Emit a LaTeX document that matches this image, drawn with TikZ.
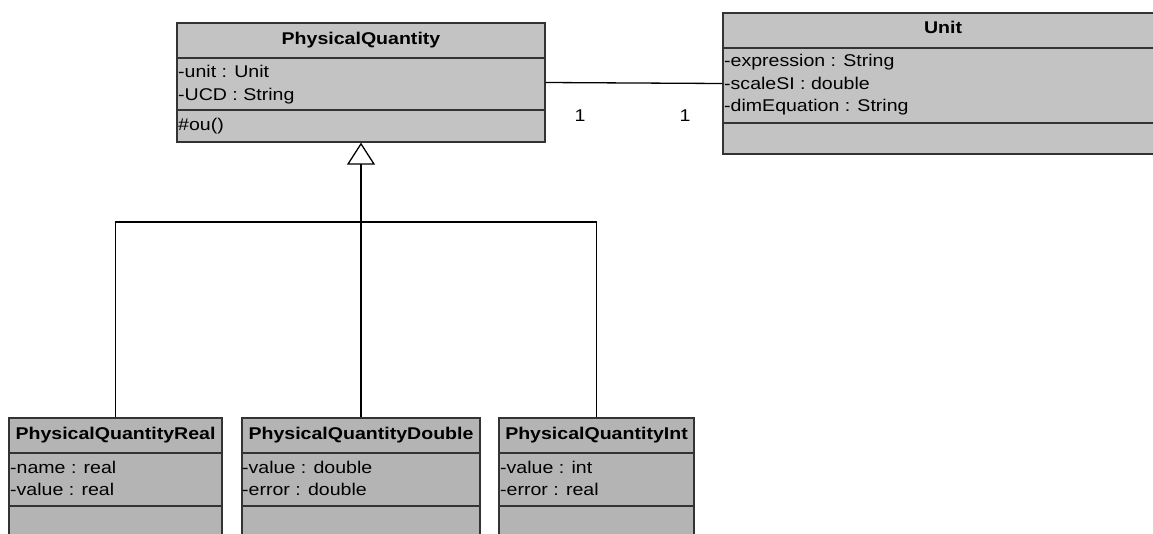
\documentclass[tikz,border=0pt]{standalone}
\usepackage{fontspec}
\setmainfont[FakeStretch=1.15]{Liberation Sans}
\usepackage{tikz}
\usetikzlibrary{arrows.meta}
\definecolor{boxgr}{HTML}{C3C3C3}
\definecolor{subgr}{HTML}{B4B4B4}
\definecolor{edge}{HTML}{333333}

\begin{document}
\begin{tikzpicture}[x=1pt, y=-1pt, font=\fontsize{17}{20}\selectfont,
  cls/.style={draw=edge, line width=1.3pt, inner sep=0, rectangle},
  sep/.style={draw=edge, line width=1.6pt},
  attr/.style={anchor=mid west, inner sep=0},
  title/.style={anchor=mid, inner sep=0, font=\fontsize{17}{20}\selectfont\bfseries},
  inherit/.style={line width=1.2pt, -{Triangle[open, width=28pt, length=22pt, line width=1.3pt]}}]
\clip (0,0) rectangle (1153,533);
\fill[white] (0,0) rectangle (1153,533);
% class boxes
\node[cls, fill=boxgr, minimum width=368pt, minimum height=119pt] (pq) at (361,82.5) {};
\node[cls, fill=boxgr, minimum width=440pt, minimum height=141pt] (unit) at (943,83.5) {};
\node[cls, fill=subgr, minimum width=213pt, minimum height=142pt] (real) at (115.5,489) {};
\node[cls, fill=subgr, minimum width=238pt, minimum height=142pt] (dbl) at (361,489) {};
\node[cls, fill=subgr, minimum width=195pt, minimum height=142pt] (int) at (596.5,489) {};
% compartments
\draw[sep] (pq.west |- 0,58) -- (pq.east |- 0,58);
\draw[sep] (pq.west |- 0,110) -- (pq.east |- 0,110);
\draw[sep] (unit.west |- 0,48) -- (unit.east |- 0,48);
\draw[sep] (unit.west |- 0,123) -- (unit.east |- 0,123);
\foreach \b in {real, dbl, int}{
\draw[sep] (\b.west |- 0,453) -- (\b.east |- 0,453);
\draw[sep] (\b.west |- 0,506) -- (\b.east |- 0,506);
}
% names
\node[title] (pqname) at (361,42) {PhysicalQuantity};
\node[title] (unitname) at (943,31) {Unit};
\node[title] (realname) at (115.5,437) {PhysicalQuantityReal};
\node[title] (dblname) at (361,437) {PhysicalQuantityDouble};
\node[title] (intname) at (596.5,437) {PhysicalQuantityInt};
% members
\foreach \x/\y/\t [count=\i] in {
178/75/-unit : Unit, 178/98/-UCD : String, 178/128/\#ou(),
724/64/-expression : String, 724/87/-scaleSI : double, 724/109/-dimEquation : String,
10/471/-name : real, 10/493/-value : real,
242/471/-value : double, 242/493/-error : double,
500/471/-value : int, 500/493/-error : real
}{
\node[attr] (m\i) at (\x,\y) {\t};
}
% association
\draw[line width=1.3pt] (pq.east) -- (unit.west);
\node (one1) at (580,116) {1};
\node (one2) at (685,116) {1};
% generalization
\coordinate (joint) at (361,222);
\draw[inherit] (dbl.north) -- (pq.south);
\draw[line width=1.2pt] (real.north) |- (joint) -| (int.north);
\end{tikzpicture}
\end{document}
